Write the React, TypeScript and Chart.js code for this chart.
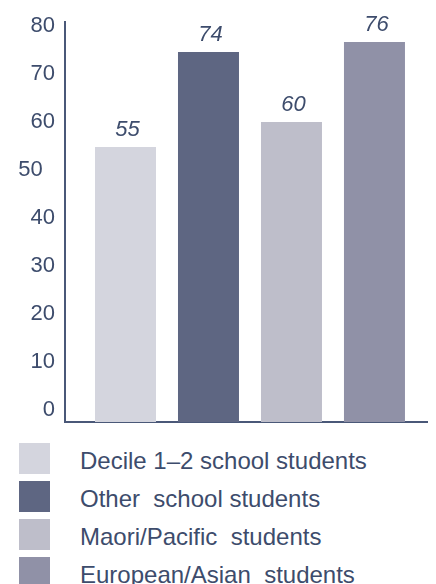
import { useEffect, useRef } from "react";
import { Chart, registerables } from "chart.js";

Chart.register(...registerables);

// Groups shown, one bar each, in drawing order
const categories = [
  "Decile 1–2 school students",
  "Other  school students",
  "Maori/Pacific  students",
  "European/Asian  students",
];
const values = [55, 74, 60, 76];
const barColors = ["#d4d5de", "#5e6682", "#bebeca", "#9091a7"];

// Vertical axis ticks and their printed labels
const yTickValues = [0, 10, 20, 30, 40, 50, 60, 70, 80];
const yTickLabels = ["0", "10", "20", "30", "40", "50  ", "60", "70", "80"];

const textColor = "#3d4c6c";
const axisColor = "#4a5878";
const fontFamily = "'Liberation Sans', Arial, Helvetica, sans-serif";

const valueLabels = {
  id: "valueLabels",
  afterDatasetsDraw(chart: any) {
    const ctx = chart.ctx;
    ctx.save();
    ctx.font = `italic 22px ${fontFamily}`;
    ctx.fillStyle = textColor;
    ctx.textAlign = "center";
    ctx.textBaseline = "alphabetic";
    chart.data.datasets.forEach((_ds: any, i: number) => {
      const el = chart.getDatasetMeta(i).data[0];
      if (!el) return;
      ctx.fillText(String(values[i]), el.x + 2, el.y - 11);
    });
    ctx.restore();
  },
};

const noPadding = (s: any) => {
  s.paddingTop = 0;
  s.paddingBottom = 0;
  s.paddingLeft = 0;
  s.paddingRight = 0;
};

export default function App() {
  const canvasRef = useRef<HTMLCanvasElement | null>(null);

  useEffect(() => {
    if (!canvasRef.current) return;
    const chart = new Chart(canvasRef.current, {
      type: "bar",
      data: {
        datasets: categories.map((label, i) => ({
          label,
          data: [{ x: i, y: values[i] }],
          backgroundColor: barColors[i],
          grouped: false,
          barPercentage: 0.735,
          categoryPercentage: 1,
        })),
      },
      options: {
        animation: false,
        responsive: false,
        devicePixelRatio: 1,
        layout: { padding: { left: 0, top: 22, right: 9, bottom: 10 } },
        plugins: {
          legend: { display: false },
          tooltip: { enabled: false },
        },
        scales: {
          x: {
            type: "linear",
            offset: false,
            min: -0.729,
            max: 3.633,
            grid: { display: false, offset: false, drawTicks: false },
            ticks: { display: false },
            border: { display: true, color: axisColor, width: 2 },
            afterBuildTicks: (s: any) => {
              s.ticks = values.map((_v, i) => ({ value: i }));
            },
            afterFit: (s: any) => {
              s.height = 0;
              noPadding(s);
            },
          },
          y: {
            type: "linear",
            position: "left",
            weight: 0,
            min: 0,
            max: 80,
            grid: { display: false, drawTicks: false },
            ticks: { display: false },
            border: { display: true, color: axisColor, width: 2 },
            afterFit: (s: any) => {
              s.width = 0;
              noPadding(s);
            },
          },
          yt: {
            type: "linear",
            position: "left",
            weight: 1,
            min: -2.5,
            max: 80.833,
            grid: { display: false, drawTicks: false },
            border: { display: false },
            ticks: {
              color: textColor,
              font: { family: fontFamily, size: 22 },
              padding: 10,
              callback: (v: any) => {
                const idx = yTickValues.indexOf(Number(v));
                return idx >= 0 ? yTickLabels[idx] : "";
              },
            },
            afterBuildTicks: (s: any) => {
              s.ticks = yTickValues.map((v) => ({ value: v }));
            },
            afterFit: (s: any) => {
              s.width = 65;
              noPadding(s);
            },
          },
        },
      } as any,
      plugins: [valueLabels],
    });
    return () => chart.destroy();
  }, []);

  return (
    <div style={{ position: "absolute", left: 0, top: 0, width: 436, height: 584, background: "#fff" }}>
      <canvas ref={canvasRef} width={436} height={432} style={{ position: "absolute", left: 0, top: 0 }} />
      <div style={{ position: "absolute", left: 19, top: 443 }}>
        {categories.map((label, i) => (
          <div key={label} style={{ display: "flex", height: 31, marginBottom: 7, alignItems: "flex-start" }}>
            <div style={{ width: 31, height: 31, background: barColors[i], flex: "none" }} />
            <span
              style={{
                marginLeft: 30,
                fontFamily,
                fontSize: 24,
                lineHeight: "31px",
                color: textColor,
                whiteSpace: "pre",
                position: "relative",
                top: 2,
              }}
            >
              {label}
            </span>
          </div>
        ))}
      </div>
    </div>
  );
}
